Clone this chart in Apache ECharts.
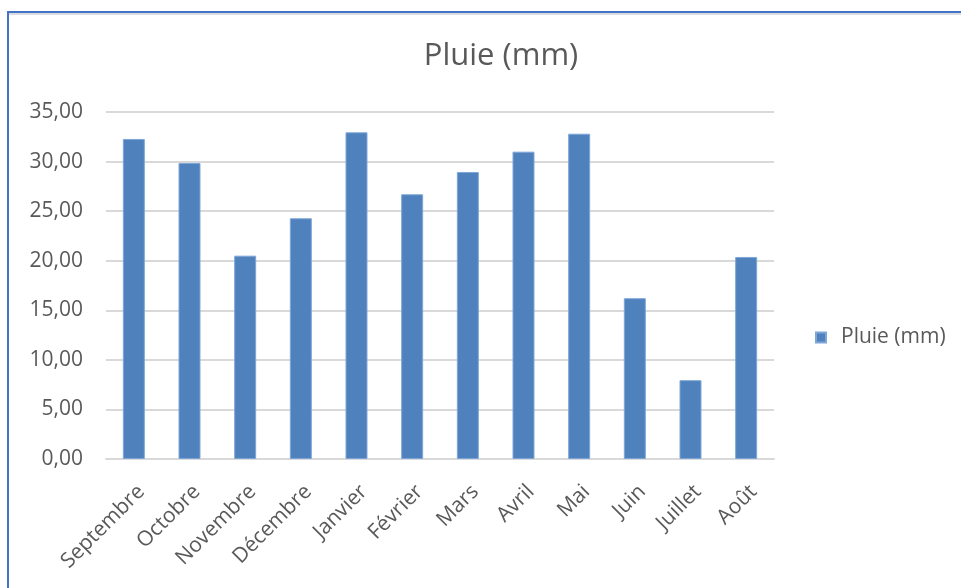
<!DOCTYPE html>
<html>
<head>
<meta charset="utf-8">
<script src="https://cdn.jsdelivr.net/npm/echarts@6/dist/echarts.min.js"></script>
<style>
  html, body { margin: 0; padding: 0; background: #ffffff; }
  #chart { width: 961px; height: 588px; }
</style>
</head>
<body>
<div id="chart"></div>
<script>
// Monthly rainfall (mm), September to August
const months = ['Septembre', 'Octobre', 'Novembre', 'Décembre', 'Janvier', 'Février',
                'Mars', 'Avril', 'Mai', 'Juin', 'Juillet', 'Août'];
const rainfall = [32.28, 29.86, 20.51, 24.28, 32.95, 26.70, 28.95, 31.00, 32.81, 16.22, 7.95, 20.38];
const seriesName = 'Pluie (mm)';
const yMin = 0, yMax = 35, yStep = 5;

const chart = echarts.init(document.getElementById('chart'), null, { renderer: 'canvas' });
const fontFamily = '"Open Sans", "Noto Sans", sans-serif';
const textColor = '#595959';

chart.setOption({
  animation: false,
  backgroundColor: '#ffffff',
  graphic: [
    // chart frame (top and left edges visible)
    { type: 'rect', shape: { x: 8, y: 12, width: 1000, height: 620 },
      style: { fill: 'none', stroke: '#4472c4', lineWidth: 2 }, z: 10 },
    { type: 'line', shape: { x1: 9, y1: 14, x2: 961, y2: 14 },
      style: { stroke: '#d9dde3', lineWidth: 2 }, z: 9 }
  ],
  title: {
    text: seriesName,
    left: 496, top: 36, textAlign: 'center',
    textStyle: { fontFamily, fontSize: 31, fontWeight: 'normal', color: textColor }
  },
  legend: {
    data: [seriesName],
    left: 815, top: 327, padding: 0,
    orient: 'vertical',
    itemWidth: 10, itemHeight: 10,
    icon: 'rect',
    textStyle: { fontFamily, fontSize: 21, color: textColor, padding: [0, 0, 0, 10] }
  },
  grid: { left: 106, right: 187, top: 112, bottom: 129, containLabel: false },
  xAxis: {
    type: 'category',
    data: months,
    axisLine: { lineStyle: { color: '#d9d9d9', width: 2 } },
    axisTick: { show: false },
    axisLabel: {
      rotate: 45, interval: 0, margin: 22,
      verticalAlign: 'top',
      fontFamily, fontSize: 21, color: textColor
    }
  },
  yAxis: {
    type: 'value',
    min: yMin, max: yMax, interval: yStep,
    axisLine: { show: false },
    axisTick: { show: false },
    splitLine: { lineStyle: { color: '#d9d9d9', width: 2 } },
    axisLabel: {
      margin: 23,
      fontFamily, fontSize: 21, color: textColor,
      formatter: v => v.toFixed(2).replace('.', ',')
    }
  },
  series: [{
    name: seriesName,
    type: 'bar',
    data: rainfall,
    barWidth: '39.5%',
    itemStyle: { color: '#4f81bd', borderColor: '#7ea6d8', borderWidth: 1 }
  }]
});
</script>
</body>
</html>
